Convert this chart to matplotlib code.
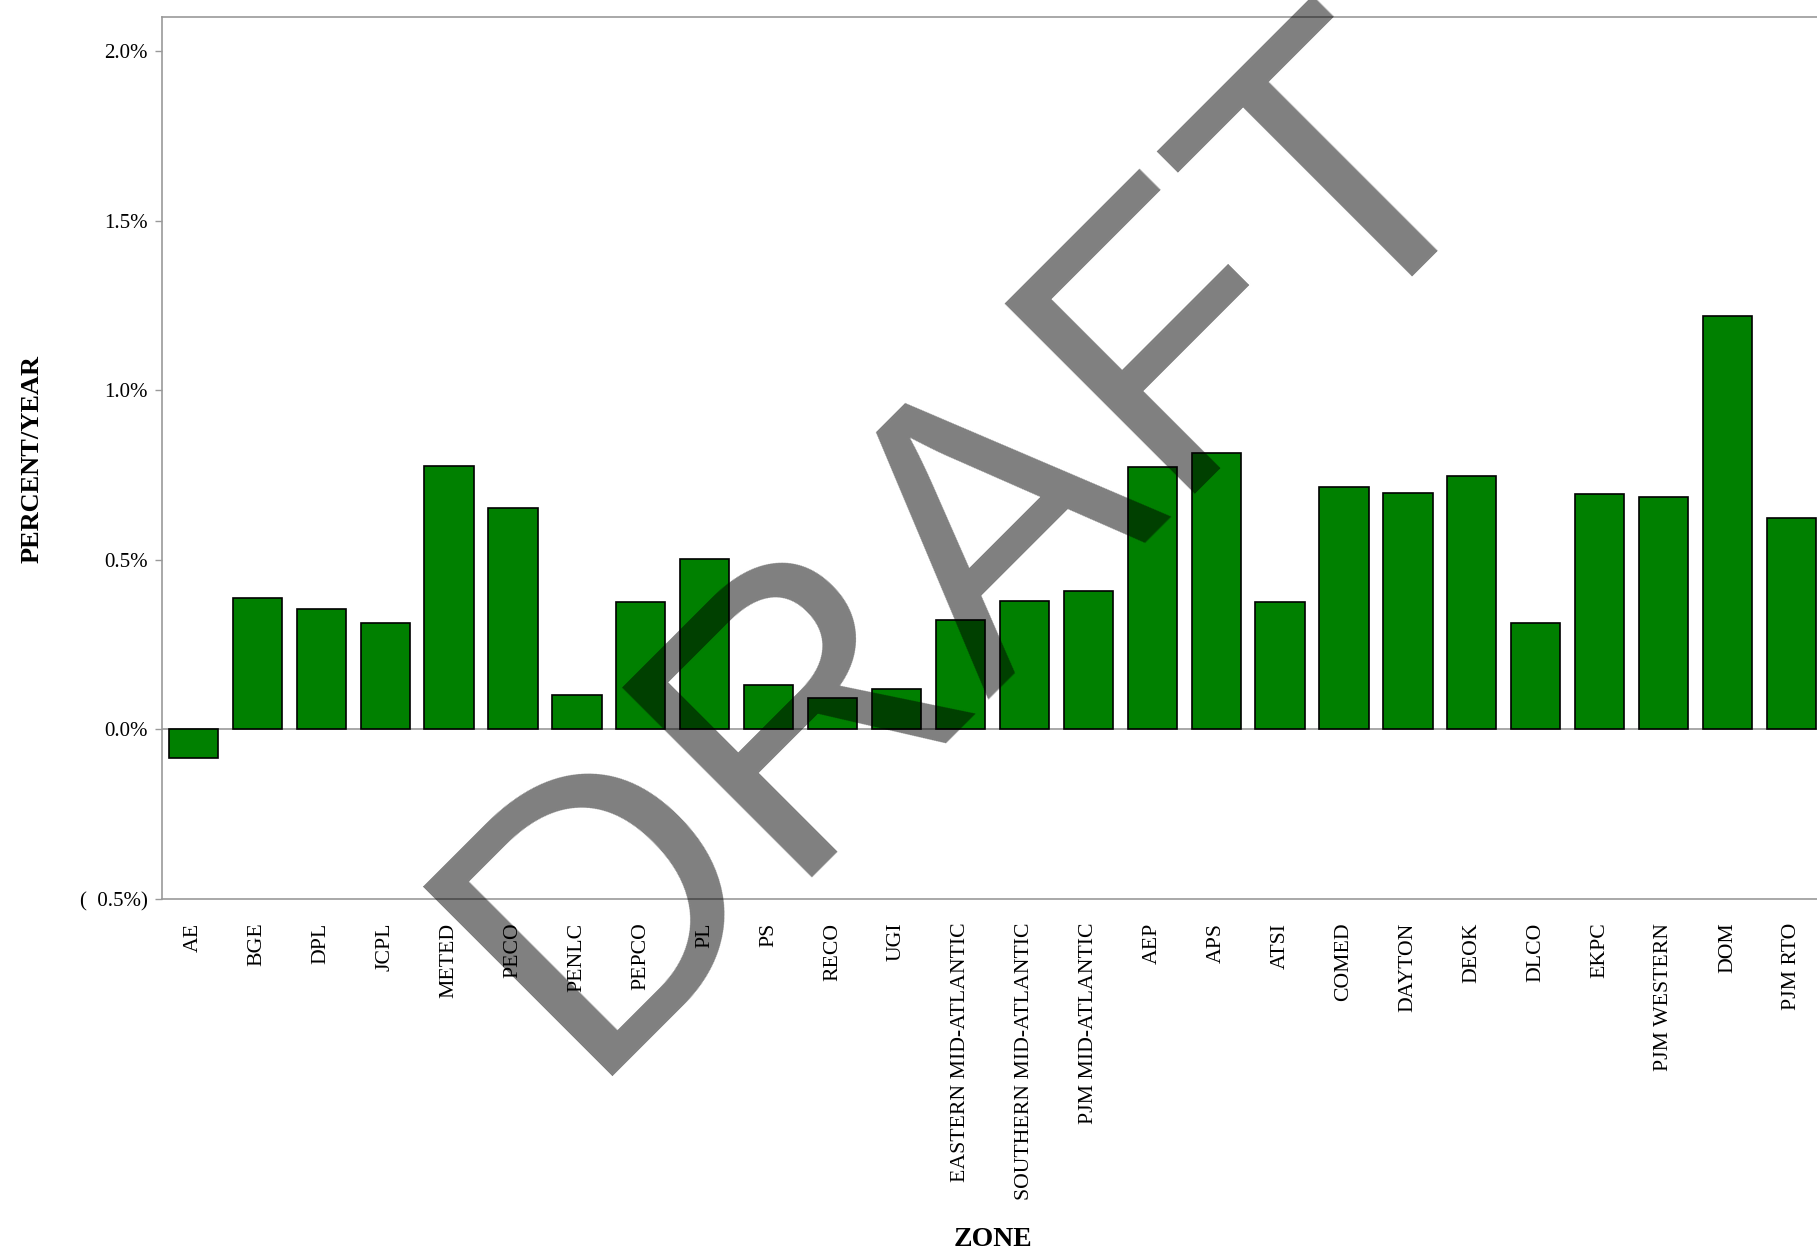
import matplotlib.pyplot as plt
from matplotlib.ticker import FuncFormatter

# === Daten ===
zones = ['AE', 'BGE', 'DPL', 'JCPL', 'METED', 'PECO', 'PENLC', 'PEPCO', 'PL', 'PS',
         'RECO', 'UGI', 'EASTERN MID-ATLANTIC', 'SOUTHERN MID-ATLANTIC',
         'PJM MID-ATLANTIC', 'AEP', 'APS', 'ATSI', 'COMED', 'DAYTON', 'DEOK',
         'DLCO', 'EKPC', 'PJM WESTERN', 'DOM', 'PJM RTO']
growth = [-0.084, 0.387, 0.355, 0.313, 0.777, 0.653, 0.101, 0.377, 0.502, 0.131,
          0.092, 0.120, 0.323, 0.380, 0.408, 0.773, 0.815, 0.377, 0.716, 0.698,
          0.748, 0.313, 0.694, 0.687, 1.220, 0.623]
y_ticks = [-0.5, 0.0, 0.5, 1.0, 1.5, 2.0]

plt.rcParams['font.family'] = ['Liberation Serif', 'DejaVu Serif']

W, H = 1817, 1258
fig = plt.figure(figsize=(W / 100, H / 100), dpi=100)
ax = fig.add_axes([162.2 / W, 1 - 899 / H, 1 - 162.2 / W, (899 - 17.4) / H])

x = range(len(zones))
ax.axhline(0, color='#999999', linewidth=1.2, zorder=1)
ax.bar(x, growth, width=0.77, color='#008000', edgecolor='black', linewidth=1.2, zorder=2)

ax.set_xlim(-0.488, 25.4)
ax.set_ylim(-0.5, 2.1)
ax.set_yticks(y_ticks)


def pct(v, pos):
    if v < 0:
        return f'(  {abs(v):.1f}%)'
    return f'{v:.1f}%'


ax.yaxis.set_major_formatter(FuncFormatter(pct))
ax.set_xticks(list(x))
ax.set_xticklabels(zones, rotation=90, ha='center', va='top')
ax.tick_params(axis='x', length=0, pad=17, labelsize=15.7)
ax.tick_params(axis='y', length=5, width=1, color='#999999', pad=5.5, labelsize=15)

for side in ['left', 'top', 'bottom']:
    ax.spines[side].set_color('#999999')
    ax.spines[side].set_linewidth(1.2)
ax.spines['right'].set_visible(False)

# Achsentitel
fig.text(38.3 / W, 1 - 459 / H, 'PERCENT/YEAR', rotation=90, rotation_mode='anchor',
         ha='center', va='baseline', fontsize=19, fontweight='bold')
fig.text(993 / W, 1 - 1246 / H, 'ZONE', ha='center', va='baseline',
         fontsize=20, fontweight='bold')

# Wasserzeichen
fig.text(580.5 / W, 1 - 1075.5 / H, 'DRAFT', rotation=45, rotation_mode='anchor',
         ha='left', va='baseline', fontsize=281, family='Liberation Sans',
         color='black', alpha=0.5, zorder=10)

fig.savefig('out.png', dpi=100)
